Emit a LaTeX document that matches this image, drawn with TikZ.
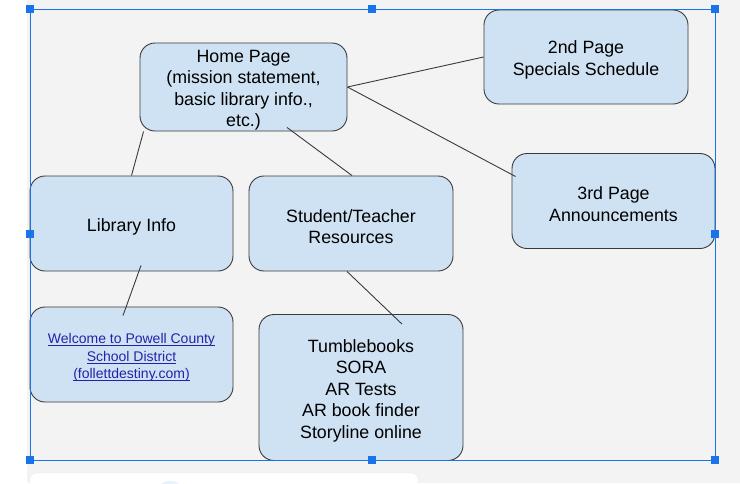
\documentclass[tikz,border=0pt]{standalone}
\usepackage{fontspec}
\setmainfont{Liberation Sans}
\usetikzlibrary{calc}
\definecolor{bgray}{HTML}{F3F3F3}
\definecolor{boxblue}{HTML}{CFE2F3}
\definecolor{edgegray}{HTML}{3A3A3A}
\definecolor{selblue}{HTML}{1A73E8}
\definecolor{linkblue}{RGB}{35,35,170}
\newsavebox{\mylinkbox}
\newcommand{\mylinkul}[1]{\sbox{\mylinkbox}{#1}\rlap{\rule[-2.2pt]{\wd\mylinkbox}{0.7pt}}\usebox{\mylinkbox}}
\tikzset{
  pagebox/.style={draw=edgegray, line width=0.9pt, fill=boxblue, rounded corners=15pt,
    inner sep=0pt},
  pagetext/.style={align=center, inner sep=0pt, yshift=-3pt, font=\fontsize{17.8}{21.5}\selectfont},
  linktext/.style={pagetext, font=\fontsize{14}{17.3}\selectfont\color{linkblue}},
  link/.style={draw=edgegray, line width=0.9pt},
  handle/.style={fill=selblue, draw=none, minimum size=8pt, inner sep=0pt}
}
\begin{document}
\begin{tikzpicture}[x=1pt,y=-1pt]
\useasboundingbox (0,0) rectangle (740,483);
% canvas background
\fill[bgray] (27,0) rectangle (740,483);
% bottom card
\fill[white, rounded corners=6pt] (30,473) rectangle (418,495);
\draw[black!8, rounded corners=6pt] (30,495) -- (30,473) -- (418,473) -- (418,495);
\begin{scope}
\clip (30,473) rectangle (418,483);
\fill[selblue!10] (170,496) circle (15);
\end{scope}

% nodes
\node[pagebox, minimum width=207pt, minimum height=88pt,
  label={[pagetext]center:Home Page\\(mission statement,\\basic library info.,\\etc.)}] (home) at (243.5,87) {};
\node[pagebox, minimum width=204pt, minimum height=94pt,
  label={[pagetext]center:2nd Page\\Specials Schedule}] (second) at (586,57) {};
\node[pagebox, minimum width=203pt, minimum height=95pt,
  label={[pagetext]center:3rd Page\\Announcements}] (third) at (613.5,201) {};
\node[pagebox, minimum width=203pt, minimum height=95pt,
  label={[pagetext]center:Library Info}] (lib) at (131.5,223.5) {};
\node[pagebox, minimum width=204pt, minimum height=95pt,
  label={[pagetext]center:Student/Teacher\\Resources}] (stu) at (351,223.5) {};
\node[pagebox, minimum width=203pt, minimum height=95pt,
  label={[linktext]center:\mylinkul{Welcome to Powell County}\\\mylinkul{School District}\\\mylinkul{(follettdestiny.com)}}] (welcome) at (131.5,354.5) {};
\node[pagebox, minimum width=204pt, minimum height=146pt,
  label={[pagetext]center:Tumblebooks\\SORA\\AR Tests\\AR book finder\\Storyline online}] (tumble) at (361,387.5) {};

% connectors
\draw[link] ($(home.south west)+(4pt,0pt)$) -- (lib.north);
\draw[link] ($(home.south)+(43.5pt,4pt)$) -- ($(stu.north)+(1pt,0pt)$);
\draw[link] (home.east) -- (second.west);
\draw[link] (home.east) -- ($(third.west)+(4pt,24.5pt)$);
\draw[link] ($(lib.south)+(9.5pt,6pt)$) -- ($(welcome.north)+(-8.5pt,-9pt)$);
\draw[link] ($(stu.south)+(-4pt,0pt)$) -- ($(tumble.north)+(41pt,-10pt)$);

% selection frame
\draw[selblue, line width=1pt] (30,9) rectangle (715,460);
\foreach \hx/\hy [count=\i] in {30/9,372/9,715/9,30/234,715/234,30/460,372/460,715/460}
  \node[handle] (h\i) at (\hx,\hy) {};
\end{tikzpicture}
\end{document}
